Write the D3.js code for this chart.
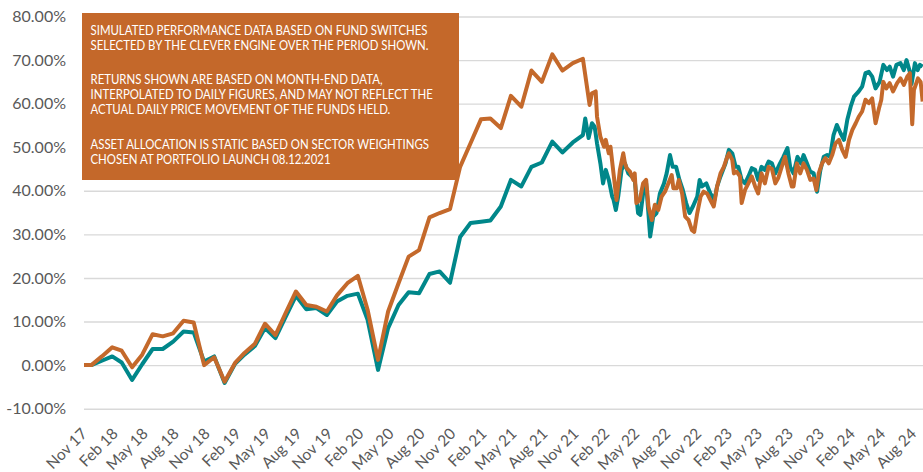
<!DOCTYPE html>
<html>
<head>
<meta charset="utf-8">
<script src="https://cdn.jsdelivr.net/npm/d3@7"></script>
<style>
  body { margin: 0; background: #fff; }
  svg { display: block; font-family: Lato, "Open Sans", sans-serif; }
</style>
</head>
<body>
<svg id="chart" width="923" height="472"></svg>
<script>
// start of the simulation, both portfolios at 0%
var startDate = "2017-11-08";

// month-end points (returns interpolated daily between them)
var monthEnds = ["2017-11-30","2017-12-31","2018-01-31","2018-02-28","2018-03-31","2018-04-30","2018-05-31","2018-06-30",
  "2018-07-31","2018-08-31","2018-09-30","2018-10-31","2018-11-30","2018-12-31","2019-01-31","2019-02-28","2019-03-31",
  "2019-04-30","2019-05-31","2019-06-30","2019-07-31","2019-08-31","2019-09-30","2019-10-31","2019-11-30","2019-12-31",
  "2020-01-31","2020-02-29","2020-03-31","2020-04-30","2020-05-31","2020-06-30","2020-07-31","2020-08-31","2020-09-30",
  "2020-10-31","2020-11-30","2020-12-31","2021-01-31","2021-02-28","2021-03-31","2021-04-30","2021-05-31","2021-06-30",
  "2021-07-31","2021-08-31","2021-09-30","2021-10-31","2021-11-30"];

var orangeMonthly = [0, 2.0, 4.1, 3.3, -0.5, 2.4, 7.1, 6.6, 7.3, 10.2, 9.8, 0.0, 1.8, -3.8, 0.5, 2.8, 4.9, 9.5, 6.9, 11.9,
  16.9, 13.8, 13.4, 12.3, 16.0, 18.8, 20.5, 12.7, 1.2, 12.3, 18.8, 24.9, 26.4, 33.9, 34.9, 35.8, 45.5, 50.9, 56.4, 56.6,
  54.4, 61.8, 59.3, 67.6, 65.0, 71.3, 67.6, 69.3, 70.3];

var tealMonthly = [0, 1.0, 2.0, 0.6, -3.4, 0.2, 3.7, 3.7, 5.4, 7.7, 7.5, 0.8, 2.0, -4.1, 0.3, 2.4, 4.4, 8.5, 6.2, 11.0,
  15.9, 12.8, 13.1, 11.5, 14.6, 15.9, 16.4, 10.4, -1.1, 8.5, 13.8, 16.7, 16.5, 20.9, 21.5, 18.9, 29.4, 32.6, 32.9, 33.2,
  36.4, 42.5, 41.0, 45.5, 46.5, 51.3, 48.8, 51.1, 52.8];

// daily data from Dec 2021 onwards
var orangeDaily = [["2021-12-20",59.7],["2021-12-27",62.4],["2022-01-07",62.8],["2022-01-11",57.0],["2022-01-21",52.4],
  ["2022-02-01",50.1],["2022-02-06",51.7],["2022-02-15",48.6],["2022-02-20",50.1],["2022-03-01",44.0],["2022-03-10",37.9],
  ["2022-03-20",44.8],["2022-03-30",48.6],["2022-04-04",46.3],["2022-04-09",45.2],["2022-04-19",44.4],["2022-04-29",42.5],
  ["2022-05-03",44.0],["2022-05-08",37.2],["2022-05-18",37.9],["2022-05-28",41.7],["2022-06-06",42.5],["2022-06-13",36.4],
  ["2022-06-23",33.3],["2022-07-02",36.8],["2022-07-12",35.6],["2022-07-22",38.7],["2022-08-01",39.8],["2022-08-11",41.7],
  ["2022-08-21",43.6],["2022-08-26",40.6],["2022-09-05",40.6],["2022-09-11",42.5],["2022-09-21",39.4],["2022-09-30",34.1],
  ["2022-10-10",33.3],["2022-10-20",31.0],["2022-10-27",30.6],["2022-11-05",34.9],["2022-11-15",38.7],["2022-11-24",39.8],
  ["2022-12-04",39.4],["2022-12-14",37.9],["2022-12-24",36.4],["2023-01-03",41.0],["2023-01-13",44.0],["2023-01-23",45.5],
  ["2023-02-02",47.8],["2023-02-07",48.6],["2023-02-17",47.1],["2023-02-22",44.0],["2023-03-02",44.4],["2023-03-12",43.3],
  ["2023-03-17",37.2],["2023-03-27",40.2],["2023-04-06",41.7],["2023-04-16",43.3],["2023-04-26",41.0],["2023-05-05",39.4],
  ["2023-05-15",44.0],["2023-05-25",41.7],["2023-06-05",45.5],["2023-06-15",45.0],["2023-06-25",41.7],["2023-07-04",43.0],
  ["2023-07-14",45.5],["2023-07-24",47.8],["2023-08-03",44.0],["2023-08-13",41.0],["2023-08-18",41.0],["2023-08-28",46.3],
  ["2023-09-07",44.0],["2023-09-17",46.3],["2023-09-27",44.8],["2023-10-07",42.5],["2023-10-17",42.8],["2023-10-25",40.2],
  ["2023-11-01",44.0],["2023-11-11",46.3],["2023-11-21",47.5],["2023-12-01",46.3],["2023-12-11",48.2],["2023-12-21",50.9],
  ["2023-12-31",51.7],["2024-01-10",49.4],["2024-01-20",47.8],["2024-01-30",51.7],["2024-02-09",54.0],["2024-02-19",55.5],
  ["2024-02-28",57.0],["2024-03-09",58.2],["2024-03-19",60.9],["2024-03-29",60.1],["2024-04-08",61.2],["2024-04-18",55.5],
  ["2024-04-28",58.9],["2024-05-05",60.9],["2024-05-11",65.0],["2024-05-20",63.5],["2024-05-30",64.7],["2024-06-09",62.8],
  ["2024-06-21",64.7],["2024-07-01",65.8],["2024-07-11",64.3],["2024-07-21",66.2],["2024-07-29",67.0],["2024-08-05",55.3],
  ["2024-08-10",63.1],["2024-08-22",65.8],["2024-08-30",65.0],["2024-09-05",60.5]];

var tealDaily = [["2021-12-07",56.6],["2021-12-17",52.1],["2021-12-27",55.5],["2022-01-04",54.7],["2022-01-11",50.9],
  ["2022-01-21",46.3],["2022-01-29",41.7],["2022-02-06",44.8],["2022-02-15",42.5],["2022-02-25",38.7],["2022-03-01",38.0],
  ["2022-03-08",35.6],["2022-03-15",38.7],["2022-03-25",44.8],["2022-04-04",46.3],["2022-04-14",44.0],["2022-04-24",43.3],
  ["2022-05-03",42.5],["2022-05-13",34.9],["2022-05-20",34.5],["2022-05-28",39.4],["2022-06-06",41.7],["2022-06-18",29.5],
  ["2022-06-27",34.1],["2022-07-07",34.9],["2022-07-17",39.4],["2022-07-29",41.7],["2022-08-06",44.0],["2022-08-16",48.2],
  ["2022-08-24",45.5],["2022-09-03",45.5],["2022-09-13",42.5],["2022-09-23",40.2],["2022-10-03",37.2],["2022-10-13",34.9],
  ["2022-10-23",36.4],["2022-11-05",38.7],["2022-11-12",42.5],["2022-11-19",41.0],["2022-12-02",41.7],["2022-12-14",39.4],
  ["2022-12-26",37.9],["2023-01-03",41.0],["2023-01-13",43.3],["2023-01-28",46.3],["2023-02-07",49.4],["2023-02-17",48.6],
  ["2023-02-27",45.5],["2023-03-07",45.5],["2023-03-17",42.5],["2023-03-27",41.7],["2023-04-06",43.3],["2023-04-16",45.2],
  ["2023-04-26",44.8],["2023-05-05",42.5],["2023-05-15",45.5],["2023-05-25",44.8],["2023-06-05",46.7],["2023-06-15",46.3],
  ["2023-06-25",44.0],["2023-07-09",46.3],["2023-07-19",47.8],["2023-07-31",49.8],["2023-08-08",45.5],["2023-08-18",44.0],
  ["2023-08-30",47.8],["2023-09-09",46.3],["2023-09-17",48.2],["2023-09-27",46.3],["2023-10-07",44.4],["2023-10-17",44.0],
  ["2023-10-27",39.8],["2023-11-06",44.8],["2023-11-16",47.8],["2023-11-26",48.2],["2023-12-05",47.8],["2023-12-15",52.8],
  ["2023-12-25",55.1],["2024-01-05",53.2],["2024-01-15",51.7],["2024-01-25",56.3],["2024-02-04",59.3],["2024-02-14",61.6],
  ["2024-02-28",62.8],["2024-03-09",63.9],["2024-03-19",67.0],["2024-03-29",67.3],["2024-04-08",66.2],["2024-04-18",63.5],
  ["2024-04-30",65.0],["2024-05-11",68.9],["2024-05-22",67.7],["2024-05-30",68.5],["2024-06-09",66.2],["2024-06-19",68.9],
  ["2024-07-01",69.3],["2024-07-11",67.7],["2024-07-19",70.0],["2024-07-29",67.3],["2024-08-03",64.5],["2024-08-13",69.3],
  ["2024-08-21",67.7],["2024-08-28",68.9],["2024-09-05",68.5]];

var yTicks = [-10, 0, 10, 20, 30, 40, 50, 60, 70, 80];
var xTickLabels = ["Nov 17","Feb 18","May 18","Aug 18","Nov 18","Feb 19","May 19","Aug 19","Nov 19","Feb 20","May 20",
  "Aug 20","Nov 20","Feb 21","May 21","Aug 21","Nov 21","Feb 22","May 22","Aug 22","Nov 22","Feb 23","May 23","Aug 23",
  "Nov 23","Feb 24","May 24","Aug 24"];

var noteLines = [
  ["SIMULATED PERFORMANCE DATA BASED ON FUND SWITCHES", 0],
  ["SELECTED BY THE CLEVER ENGINE OVER THE PERIOD SHOWN.", 1],
  ["RETURNS SHOWN ARE BASED ON MONTH-END DATA,", 3.33],
  ["INTERPOLATED TO DAILY FIGURES, AND MAY NOT REFLECT THE", 4.33],
  ["ACTUAL DAILY PRICE MOVEMENT OF THE FUNDS HELD.", 5.33],
  ["ASSET ALLOCATION IS STATIC BASED ON SECTOR WEIGHTINGS", 7.6],
  ["CHOSEN AT PORTFOLIO LAUNCH 08.12.2021", 8.6]
];

var parseDate = d3.timeParse("%Y-%m-%d");

function buildSeries(monthly, daily) {
  var s = [{date: parseDate(startDate), value: 0}];
  monthEnds.forEach(function(d, i) { s.push({date: parseDate(d), value: monthly[i]}); });
  daily.forEach(function(d) { s.push({date: parseDate(d[0]), value: d[1]}); });
  return s;
}

var tealSeries = buildSeries(tealMonthly, tealDaily);
var orangeSeries = buildSeries(orangeMonthly, orangeDaily);

var svg = d3.select("#chart"),
    margin = {top: 16.5, right: 0, bottom: 63, left: 84},
    width = +svg.attr("width") - margin.left - margin.right,
    height = 408.7 - margin.top,
    g = svg.append("g").attr("transform", "translate(" + margin.left + "," + margin.top + ")");

var x = d3.scaleTime()
    .domain([parseDate(startDate), parseDate("2024-09-06")])
    .range([0, width]);

var y = d3.scaleLinear()
    .domain([-10, 80])
    .range([height, 0]);

// gridlines
g.append("g")
    .attr("class", "grid")
    .call(d3.axisLeft(y).tickValues(yTicks).tickSize(-width).tickFormat(""))
    .call(function(a) {
      a.select(".domain").remove();
      a.selectAll("line").attr("stroke", "#d9d9d9").attr("stroke-width", 1.4);
    });

// y axis labels
g.append("g")
    .call(d3.axisLeft(y).tickValues(yTicks).tickSize(0).tickPadding(18)
      .tickFormat(function(d) { return d.toFixed(2) + "%"; }))
    .call(function(a) {
      a.select(".domain").remove();
      a.selectAll("text").attr("fill", "#595959").attr("font-size", "16px")
        .attr("font-family", "Lato, sans-serif");
    });

// x axis labels, every 3 months from the start date
var xTickDates = xTickLabels.map(function(d, i) { return d3.timeMonth.offset(parseDate(startDate), i * 3); });

g.append("g")
    .attr("transform", "translate(0," + height + ")")
    .call(d3.axisBottom(x).tickValues(xTickDates).tickSize(0)
      .tickFormat(function(d, i) { return xTickLabels[i]; }))
    .call(function(a) {
      a.select(".domain").remove();
      a.selectAll("text")
        .attr("fill", "#595959")
        .attr("font-size", "15.5px")
        .attr("font-family", "Lato, sans-serif")
        .attr("text-anchor", "end")
        .attr("dy", null)
        .attr("y", 0)
        .attr("transform", "translate(3.5,26) rotate(-45)");
    });

var line = d3.line()
    .x(function(d) { return x(d.date); })
    .y(function(d) { return y(d.value); });

g.append("path")
    .datum(tealSeries)
    .attr("fill", "none")
    .attr("stroke", "#00878a")
    .attr("stroke-width", 4)
    .attr("stroke-linejoin", "round")
    .attr("d", line);

g.append("path")
    .datum(orangeSeries)
    .attr("fill", "none")
    .attr("stroke", "#c4692b")
    .attr("stroke-width", 4)
    .attr("stroke-linejoin", "round")
    .attr("d", line);

// disclaimer box
var note = svg.append("g").attr("transform", "translate(82,13)");

note.append("rect")
    .attr("width", 377)
    .attr("height", 167)
    .attr("fill", "#c4682a");

var noteText = note.selectAll("text")
    .data(noteLines)
    .enter().append("text")
      .attr("x", 8.5)
      .attr("y", function(d) { return 21.5 + d[1] * 15; })
      .attr("fill", "#fff")
      .attr("font-size", "13px")
      .attr("font-family", "Lato, sans-serif")
      .text(function(d) { return d[0]; });

// squeeze the text to the narrow width of the original font
var firstW = noteText.node().getComputedTextLength();
var squeeze = 337 / firstW;
noteText.each(function() {
  var w = this.getComputedTextLength();
  d3.select(this).attr("textLength", w * squeeze).attr("lengthAdjust", "spacingAndGlyphs");
});
</script>
</body>
</html>
